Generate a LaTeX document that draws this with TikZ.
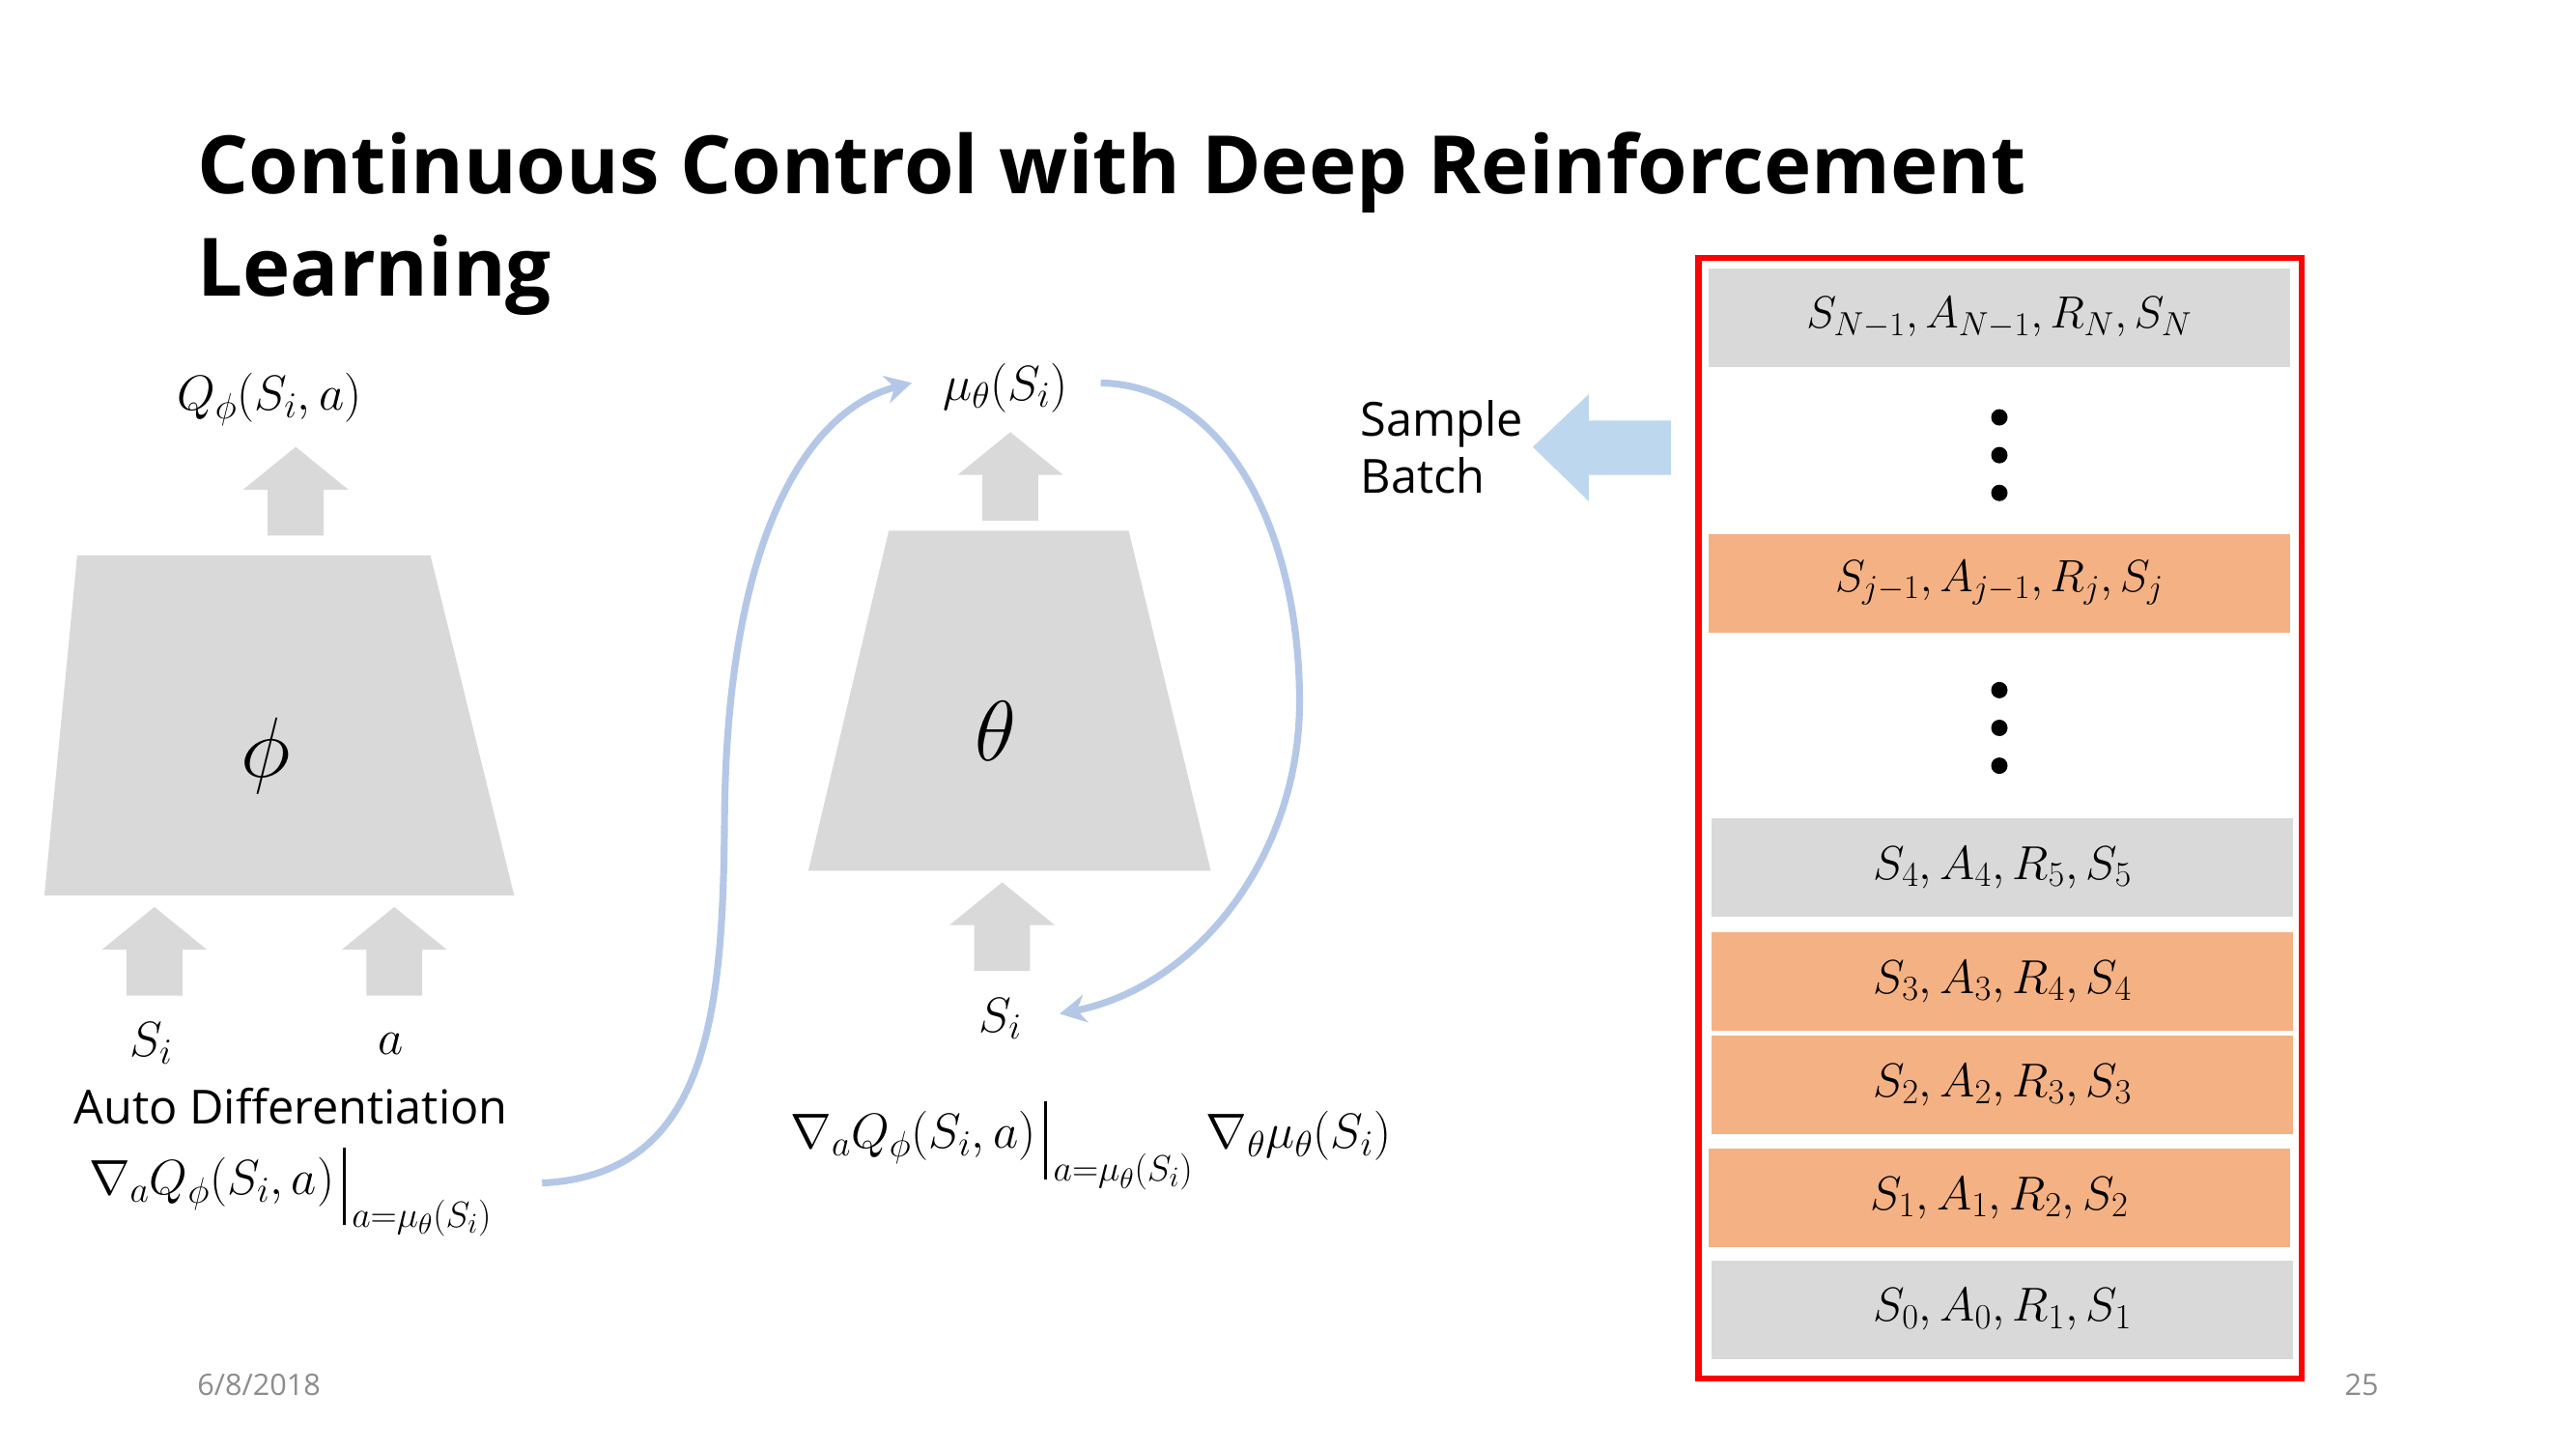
\RequirePackage{fix-cm}
\documentclass[tikz,border=0pt]{standalone}
\usepackage{amsmath}
\usepackage{fontspec}
\setmainfont{Open Sans}
\renewcommand\defaultscriptratio{.74}
\renewcommand\defaultscriptscriptratio{.58}
\usetikzlibrary{arrows.meta}
\definecolor{netgray}{HTML}{D9D9D9}
\definecolor{roworange}{HTML}{F4B183}
\definecolor{curveblue}{HTML}{B4C7E7}
\definecolor{batchblue}{HTML}{BDD7EE}
\definecolor{footgray}{HTML}{8C8C8C}
\newcommand\evalbar{{\vrule height 0.95em depth 0.62em width 0.065em}}
\begin{document}
\begin{tikzpicture}[x=1pt,y=-1pt,
  uparrow/.pic={\fill[netgray] (0,0) -- (32,26) -- (17,26) -- (17,54) -- (-17,54) -- (-17,26) -- (-32,26) -- cycle;},
  lbl/.style={inner sep=0pt, font=\fontsize{30}{36}\selectfont},
  big/.style={inner sep=0pt, font=\fontsize{52}{60}\selectfont},
  txt/.style={inner sep=0pt, font=\fontsize{28.6}{35}\selectfont},
  titletxt/.style={inner sep=0pt, font=\fontsize{49}{60}\selectfont\bfseries},
  foot/.style={inner sep=0pt, text=footgray, font=\fontsize{18}{22}\selectfont},
  rowbox/.style={minimum width=354pt, minimum height=60pt, inner sep=0pt, font=\fontsize{29}{34}\selectfont},
  rowboxs/.style={rowbox, font=\fontsize{27.5}{34}\selectfont},
  curve/.style={draw=curveblue, line width=4.2pt, -{Stealth[length=16pt,width=17pt]}},
  dot/.style={circle, fill=black, minimum size=10pt, inner sep=0pt}
]
\useasboundingbox (0,0) rectangle (1568,882);
\fill[white] (0,0) rectangle (1568,882);

% title
\node[titletxt, anchor=base west] (t1) at (120,118) {Continuous Control with Deep Reinforcement};
\node[titletxt, anchor=base west] (t2) at (120,180) {Learning};

% left network (critic)
\fill[netgray] (47,338) -- (262,338) -- (313,545) -- (27,545) -- cycle;
\node[big] (phi) at (162,460) {$\phi$};
\pic at (180,272) {uparrow};
\pic at (94,552) {uparrow};
\pic at (240,552) {uparrow};
\node[lbl] (Q) at (164,243) {$Q_\phi(S_i,a)$};
\node[lbl] (Si1) at (92,635) {$S_i$};
\node[lbl] (a1) at (238,635) {$a$};
\node[txt] (auto) at (177,673) {Auto Differentiation};
\node[lbl, anchor=base west] (grad1) at (54,727) {$\nabla_a Q_\phi(S_i,a)\,\evalbar_{\,a=\mu_\theta(S_i)}$};

% middle network (actor)
\fill[netgray] (541,323) -- (687,323) -- (737,530) -- (492,530) -- cycle;
\node[big] (theta) at (606,445) {$\theta$};
\pic at (615,263) {uparrow};
\pic at (610,537) {uparrow};
\node[lbl] (mu) at (612,236) {$\mu_\theta(S_i)$};
\node[lbl] (Si2) at (609,620) {$S_i$};
\node[lbl, anchor=base west] (grad2) at (481,699) {$\nabla_a Q_\phi(S_i,a)\,\evalbar_{\,a=\mu_\theta(S_i)}\ \nabla_\theta \mu_\theta(S_i)$};

% curves
\coordinate (c1s) at (330,720);
\coordinate (c1e) at (555,233);
\coordinate (c2s) at (670,233);
\coordinate (c2e) at (645,617);
\draw[curve] (c1s) .. controls (430,715) and (440,620) .. (441,500) .. controls (442,330) and (490,250) .. (c1e);
\draw[curve] (c2s) .. controls (750,235) and (792,330) .. (791,430) .. controls (790,520) and (730,600) .. (c2e);

% sample batch
\node[txt, anchor=west, align=left] (sb) at (828,272) {Sample\\Batch};
\fill[batchblue] (933,272) -- (967,240) -- (967,256) -- (1017,256) -- (1017,289) -- (967,289) -- (967,305) -- cycle;

% replay buffer
\node[rowboxs, fill=netgray] (rN) at (1217,193.5) {$S_{N-1}, A_{N-1}, R_N, S_N$};
\node[dot] (d1) at (1217,254) {};
\node[dot] (d2) at (1217,277) {};
\node[dot] (d3) at (1217,300) {};
\node[rowboxs, fill=roworange] (rj) at (1217,355) {$S_{j-1}, A_{j-1}, R_j, S_j$};
\node[dot] (d4) at (1217,420) {};
\node[dot] (d5) at (1217,443) {};
\node[dot] (d6) at (1217,466) {};
\node[rowbox, fill=netgray] (r4) at (1219,528) {$S_4, A_4, R_5, S_5$};
\node[rowbox, fill=roworange] (r3) at (1219,597.5) {$S_3, A_3, R_4, S_4$};
\node[rowbox, fill=roworange] (r2) at (1219,660.5) {$S_2, A_2, R_3, S_3$};
\node[rowbox, fill=roworange] (r1) at (1217,729) {$S_1, A_1, R_2, S_2$};
\node[rowbox, fill=netgray] (r0) at (1219,797) {$S_0, A_0, R_1, S_1$};
\draw[red, line width=4pt] (1034,157) rectangle (1401,839);

% footer
\node[foot, anchor=base west] (date) at (120,849) {6/8/2018};
\node[foot, anchor=base east] (page) at (1448,849) {25};
\end{tikzpicture}
\end{document}
